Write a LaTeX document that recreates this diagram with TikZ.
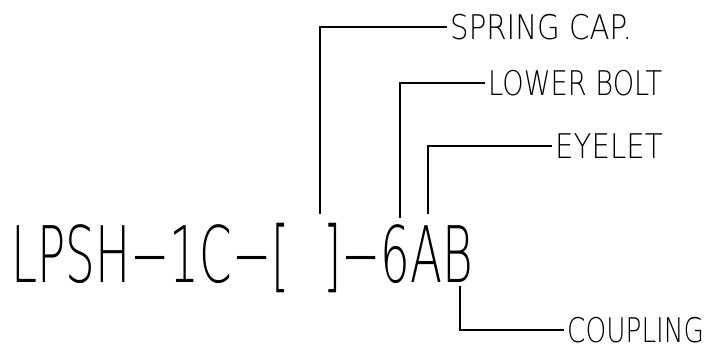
\documentclass[tikz,border=0pt]{standalone}
\usepackage{fontspec}
\newfontfamily\cadfont[FakeStretch=0.6]{DejaVuSans-ExtraLight.ttf}
\newfontfamily\cadlabel[FakeStretch=0.8]{DejaVuSans-ExtraLight.ttf}
\newfontfamily\cadlabelwide[FakeStretch=0.86]{DejaVuSans-ExtraLight.ttf}
\newfontfamily\cadlabelnarrow[FakeStretch=0.775]{DejaVuSans-ExtraLight.ttf}
\tikzset{
  lead/.style={line width=1.5pt, line cap=rect},
  lbl/.style={anchor=west, inner xsep=4pt, inner ysep=0pt, font=\cadlabel\fontsize{34}{34}\selectfont},
  lblwide/.style={lbl, font=\cadlabelwide\fontsize{34}{34}\selectfont},
  lblnarrow/.style={lbl, font=\cadlabelnarrow\fontsize{34}{34}\selectfont},
  code/.style={anchor=base west, inner sep=0pt, font=\cadfont\fontsize{78}{78}\selectfont}
}
\begin{document}
\begin{tikzpicture}[x=1pt,y=-1pt]
\useasboundingbox (0,0) rectangle (704,354);
\node[code] (main) at (11,282) {LPSH−1C−[\hspace{34pt}]−6AB};
\coordinate (c1) at (320,213);
\coordinate (c2) at (400,217);
\coordinate (c3) at (428,213);
\coordinate (c4) at (460,287);
\node[lblwide] (spring) at (446,27) {SPRING CAP.};
\node[lbl] (bolt) at (484,83) {LOWER BOLT};
\node[lblwide] (eyelet) at (551,146) {EYELET};
\node[lblnarrow] (coupling) at (563,330) {COUPLING};
\draw[lead] (c1) |- (spring.west);
\draw[lead] (c2) |- (bolt.west);
\draw[lead] (c3) |- (eyelet.west);
\draw[lead] (c4) |- (coupling.west);
\end{tikzpicture}
\end{document}
